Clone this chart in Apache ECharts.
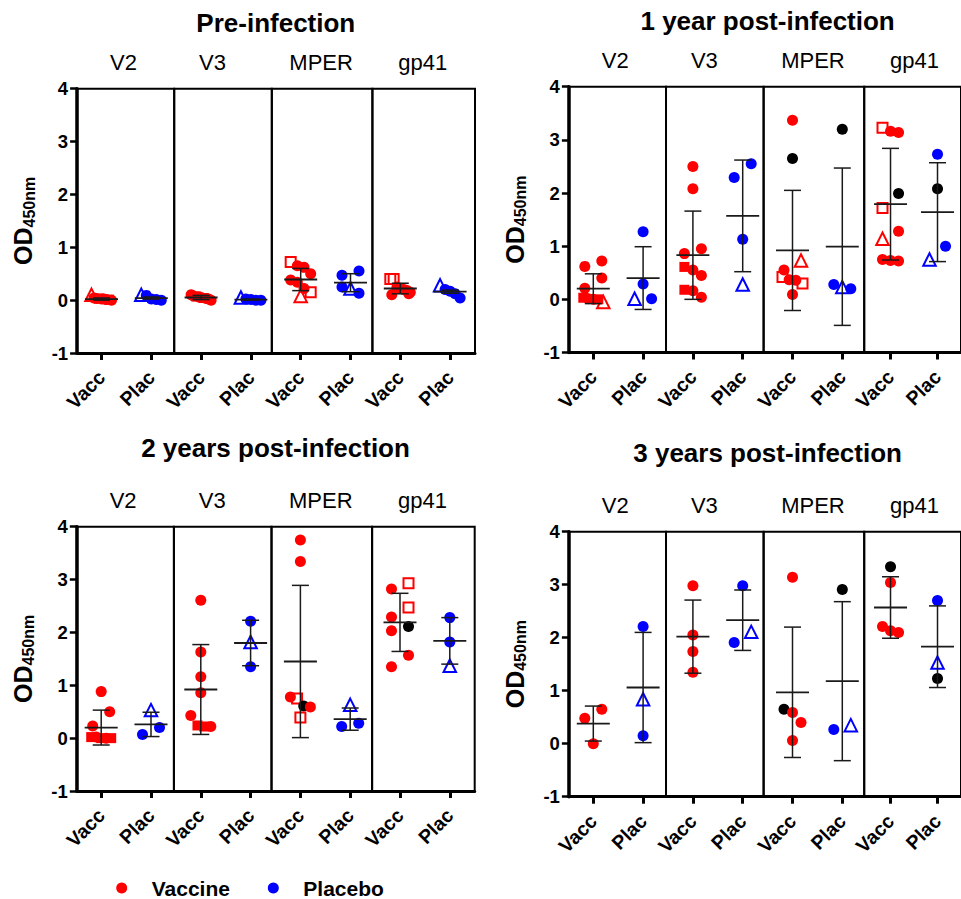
<!DOCTYPE html>
<html><head><meta charset="utf-8">
<script src="https://cdn.jsdelivr.net/npm/echarts@6/dist/echarts.min.js"></script>
<style>html,body{margin:0;padding:0;background:#fff}#c{width:961px;height:899px}</style>
</head><body><div id="c"></div>
<script>
// ---------------- DATA ----------------
const timepoints = ['Pre-infection', '1 year post-infection', '2 years post-infection', '3 years post-infection'];
const antigens = ['V2', 'V3', 'MPER', 'gp41'];
const groups = ['Vacc', 'Plac'];
const legendNames = ['Vaccine', 'Placebo'];
const yTicks = [-1, 0, 1, 2, 3, 4];
// marker codes: c = filled circle, k = black circle, s = filled square, os = open square, ot = open triangle

const PRE_VACC = [
  [0.10, 0.04, 0.03, 0.03, 0.02, 0.02, 0.01, 0.01, 0.00],
  [0.10, 0.08, 0.07, 0.06, 0.05, 0.04, 0.03, 0.02, 0.00],
  [0.72, 0.65, 0.62, 0.50, 0.38, 0.34, 0.22, 0.15, 0.08],
  [0.40, 0.40, 0.25, 0.22, 0.20, 0.18, 0.15, 0.12, 0.10]
];
const PRE_VACC_MK = [
  ['ot','c','c','s','c','c','c','s','c'],
  ['c','c','s','c','c','s','c','c','c'],
  ['os','c','c','c','c','c','c','os','ot'],
  ['os','os','c','c','c','c','c','c','c']
];
const PRE_PLAC = [
  [0.10, 0.09, 0.02, 0.01, 0.00],
  [0.05, 0.02, 0.01, 0.00, 0.00],
  [0.55, 0.47, 0.25, 0.22, 0.13],
  [0.28, 0.20, 0.17, 0.12, 0.04]
];
const PRE_PLAC_MK = [
  ['ot','c','c','c','c'],
  ['ot','c','c','c','c'],
  ['c','c','c','ot','c'],
  ['ot','c','c','c','c']
];
const PRE_MEAN = [0.02, 0.04, 0.05, 0.01, 0.39, 0.33, 0.22, 0.16];
const PRE_SD   = [0.02, 0.02, 0.04, 0.01, 0.21, 0.17, 0.10, 0.03];

const Y1_VACC = [
  [0.72, 0.62, 0.40, 0.21, 0.03, 0.01, 0.00, 0.00, -0.05],
  [2.50, 2.08, 0.95, 0.86, 0.61, 0.55, 0.45, 0.18, 0.16, 0.04],
  [3.37, 2.65, 0.73, 0.55, 0.42, 0.37, 0.36, 0.30, 0.09],
  [3.23, 3.16, 3.14, 1.99, 1.72, 1.28, 1.14, 0.75, 0.73, 0.72]
];
const Y1_VACC_MK = [
  ['c','c','c','c','s','c','c','s','ot'],
  ['c','c','c','c','s','c','c','s','c','c'],
  ['c','k','ot','c','os','c','c','os','c'],
  ['os','c','c','k','os','c','ot','c','c','c']
];
const Y1_PLAC = [
  [1.27, 0.29, 0.01, 0.01],
  [2.55, 2.29, 1.13, 0.28],
  [3.20, 0.28, 0.23, 0.20],
  [2.73, 2.08, 1.00, 0.75]
];
const Y1_PLAC_MK = [
  ['c','c','c','ot'],
  ['c','c','c','ot'],
  ['k','c','ot','c'],
  ['c','k','c','ot']
];
const Y1_MEAN = [0.20, 0.40, 0.83, 1.57, 0.92, 0.99, 1.79, 1.64];
const Y1_SD   = [0.28, 0.59, 0.83, 1.05, 1.13, 1.48, 1.05, 0.93];

const Y2_VACC = [
  [0.88, 0.50, 0.23, 0.02, 0.02, 0.00, 0.00, 0.00],
  [2.61, 1.63, 1.16, 0.86, 0.43, 0.24, 0.22, 0.22],
  [3.75, 3.34, 0.78, 0.75, 0.61, 0.59, 0.39],
  [2.93, 2.82, 2.47, 2.29, 2.11, 2.03, 1.57, 1.35]
];
const Y2_VACC_MK = [
  ['c','c','c','s','c','s','c','s'],
  ['c','c','c','c','c','s','s','c'],
  ['c','c','c','os','k','c','os'],
  ['os','c','os','c','k','c','c','c']
];
const Y2_PLAC = [
  [0.53, 0.20, 0.07],
  [2.21, 1.82, 1.35],
  [0.63, 0.28, 0.22],
  [2.28, 1.82, 1.37]
];
const Y2_PLAC_MK = [
  ['ot','c','c'],
  ['c','ot','c'],
  ['ot','c','c'],
  ['c','c','ot']
];
const Y2_MEAN = [0.20, 0.26, 0.92, 1.80, 1.45, 0.36, 2.19, 1.84];
const Y2_SD   = [0.33, 0.23, 0.85, 0.43, 1.44, 0.21, 0.55, 0.44];

const Y3_VACC = [
  [0.65, 0.48, 0.00],
  [2.98, 2.05, 1.74, 1.35],
  [3.14, 0.65, 0.59, 0.40, 0.06],
  [3.34, 3.04, 2.21, 2.13, 2.10]
];
const Y3_VACC_MK = [
  ['c','c','c'],
  ['c','c','c','c'],
  ['c','k','c','c','c'],
  ['k','c','c','c','c']
];
const Y3_PLAC = [
  [2.21, 0.84, 0.15],
  [2.98, 2.11, 1.91],
  [2.91, 0.35, 0.27],
  [2.70, 1.53, 1.23]
];
const Y3_PLAC_MK = [
  ['c','ot','c'],
  ['c','ot','c'],
  ['k','ot','c'],
  ['c','ot','k']
];
const Y3_MEAN = [0.38, 1.06, 2.02, 2.33, 0.97, 1.18, 2.57, 1.83];
const Y3_SD   = [0.33, 1.04, 0.69, 0.57, 1.23, 1.50, 0.58, 0.77];

// ---------------- LAYOUT / STYLE ----------------
const FONT = '"Liberation Sans", Arial, Helvetica, sans-serif';
const RED = '#ff0000', BLUE = '#0000ff', BLACK = '#000000', BAR = '#1a1a1a';
const panels = [
  { x0: 101.5, top: 88.7,  bottom: 353,   titleY: 23 },
  { x0: 593.3, top: 86.7,  bottom: 352.5, titleY: 21 },
  { x0: 101.2, top: 526.7, bottom: 791,   titleY: 448 },
  { x0: 593.3, top: 531.7, bottom: 796.7, titleY: 453 }
];
const UNIT = 49.8;
const BOUNDS = [-0.49, 1.46, 3.42, 5.44, 7.5];
const SUB_X = [0.44, 2.23, 4.41, 6.45];
const ROW_PX = 14.5, STEP = 8.5, MAXW = 20;
const LEGEND_Y = 888, LEGEND_X = [121.7, 273.3];

const tpData = [
  [PRE_VACC, PRE_VACC_MK, PRE_PLAC, PRE_PLAC_MK, PRE_MEAN, PRE_SD],
  [Y1_VACC, Y1_VACC_MK, Y1_PLAC, Y1_PLAC_MK, Y1_MEAN, Y1_SD],
  [Y2_VACC, Y2_VACC_MK, Y2_PLAC, Y2_PLAC_MK, Y2_MEAN, Y2_SD],
  [Y3_VACC, Y3_VACC_MK, Y3_PLAC, Y3_PLAC_MK, Y3_MEAN, Y3_SD]
];

// simple scatter-dot spreading (points close in value are spread sideways)
function swarm(vals, pxPerVal) {
  const idx = vals.map((v, i) => i).sort((a, b) => vals[b] - vals[a] || a - b);
  const rows = [];
  for (const i of idx) {
    const r = rows[rows.length - 1];
    if (r && (vals[r[0]] - vals[i]) * pxPerVal < ROW_PX) r.push(i); else rows.push([i]);
  }
  const off = new Array(vals.length).fill(0);
  for (const r of rows) {
    const n = r.length;
    if (n === 1) continue;
    if (n === 2) { off[r[0]] = STEP; off[r[1]] = -STEP; continue; }
    const w = Math.min((n - 1) * STEP, MAXW);
    r.forEach((i, k) => { off[i] = -w / 2 + k * w / (n - 1); });
  }
  return off;
}

function markerStyle(code, col) {
  switch (code) {
    case 'k':  return { symbol: 'circle', symbolSize: 11, itemStyle: { color: BLACK, opacity: 1 } };
    case 's':  return { symbol: 'rect', symbolSize: 10, itemStyle: { color: col, opacity: 1 } };
    case 'os': return { symbol: 'rect', symbolSize: 10, itemStyle: { color: 'rgba(0,0,0,0)', borderColor: col, borderWidth: 2, opacity: 1 } };
    case 'ot': return { symbol: 'triangle', symbolSize: 12.5, itemStyle: { color: 'rgba(0,0,0,0)', borderColor: col, borderWidth: 2, opacity: 1 } };
    default:   return { symbol: 'circle', symbolSize: 11, itemStyle: { color: col, opacity: 1 } };
  }
}

function renderMeanSD(params, api) {
  const x = api.value(0), m = api.value(1), s = api.value(2);
  const c = api.coord([x, m]), hi = api.coord([x, m + s]), lo = api.coord([x, m - s]);
  const st = { stroke: BAR, lineWidth: 1.5 };
  return {
    type: 'group',
    children: [
      { type: 'line', shape: { x1: hi[0], y1: hi[1], x2: lo[0], y2: lo[1] }, style: st },
      { type: 'line', shape: { x1: hi[0] - 8.5, y1: hi[1], x2: hi[0] + 8.5, y2: hi[1] }, style: st },
      { type: 'line', shape: { x1: lo[0] - 8.5, y1: lo[1], x2: lo[0] + 8.5, y2: lo[1] }, style: st },
      { type: 'line', shape: { x1: c[0] - 16.5, y1: c[1], x2: c[0] + 16.5, y2: c[1] }, style: { stroke: BAR, lineWidth: 1.8 } }
    ]
  };
}

const grids = [], xAxes = [], yAxes = [], series = [], graphics = [];
const mctx = document.createElement('canvas').getContext('2d');
const ODF = 'bold 25px ' + FONT, SUBF = 'bold 16px ' + FONT;
mctx.font = ODF; const wOD = mctx.measureText('OD').width;
mctx.font = SUBF; const wSub = mctx.measureText('450nm').width;

panels.forEach((P, p) => {
  const pxPerVal = (P.bottom - P.top) / (yTicks[yTicks.length - 1] - yTicks[0]);
  const [vv, vm, pv, pm, mean, sd] = tpData[p];
  for (let k = 0; k < 4; k++) {
    const gi = p * 4 + k;
    grids.push({
      left: P.x0 + BOUNDS[k] * UNIT, top: P.top,
      width: (BOUNDS[k + 1] - BOUNDS[k]) * UNIT, height: P.bottom - P.top,
      show: true, borderColor: '#000', borderWidth: 2, backgroundColor: 'transparent'
    });
    xAxes.push({
      gridIndex: gi, type: 'value', min: BOUNDS[k] - 2 * k, max: BOUNDS[k + 1] - 2 * k,
      axisLine: { show: true, onZero: false, lineStyle: { color: '#000', width: 3 } },
      axisTick: { show: true, customValues: [0, 1], length: 7, lineStyle: { color: '#000', width: 3 } },
      axisLabel: { show: true, customValues: [0, 1], formatter: v => groups[Math.round(v)] || '',
        rotate: 45, margin: 21, fontSize: 19.5, fontWeight: 'bold', color: '#000', fontFamily: FONT },
      splitLine: { show: false }
    });
    yAxes.push({
      gridIndex: gi, type: 'value', min: yTicks[0], max: yTicks[yTicks.length - 1], interval: 1, show: k === 0,
      axisLine: { show: true, onZero: false, lineStyle: { color: '#000', width: 3.5 } },
      axisTick: { show: true, length: 7, lineStyle: { color: '#000', width: 2.5 } },
      axisLabel: { fontSize: 18.5, fontWeight: 'bold', color: '#000', fontFamily: FONT, margin: 9 },
      splitLine: { show: false }
    });
    [[vv[k], vm[k]], [pv[k], pm[k]]].forEach(([vals, marks], g) => {
      const col = g === 0 ? RED : BLUE;
      const off = swarm(vals, pxPerVal);
      series.push({
        type: 'scatter', name: legendNames[g], xAxisIndex: gi, yAxisIndex: gi,
        itemStyle: { color: col, opacity: 1 }, z: 2, silent: true,
        data: vals.map((v, i) => Object.assign({ value: [g + off[i] / UNIT, v] }, markerStyle(marks[i], col)))
      });
    });
    series.push({
      type: 'custom', xAxisIndex: gi, yAxisIndex: gi, z: 5, silent: true,
      renderItem: renderMeanSD,
      data: [[0, mean[2 * k], sd[2 * k]], [1, mean[2 * k + 1], sd[2 * k + 1]]]
    });
    graphics.push({
      type: 'text', x: P.x0 + SUB_X[k] * UNIT, y: P.top - 26,
      style: { text: antigens[k], font: '22px ' + FONT, fill: '#000', textAlign: 'center', textVerticalAlign: 'middle' }
    });
  }
  graphics.push({
    type: 'text', x: P.x0 + 3.5 * UNIT, y: P.titleY,
    style: { text: timepoints[p], font: 'bold 26px ' + FONT, fill: '#000', textAlign: 'center', textVerticalAlign: 'middle' }
  });
  const axisX = P.x0 + BOUNDS[0] * UNIT;
  const xc = axisX - 54, yc = (P.top + P.bottom) / 2;
  const yStart = yc + (wOD + wSub) / 2;
  graphics.push({ type: 'text', x: xc, y: yStart, rotation: Math.PI / 2,
    style: { text: 'OD', font: ODF, fill: '#000', textAlign: 'left', textVerticalAlign: 'middle' } });
  graphics.push({ type: 'text', x: xc + 6, y: yStart - wOD, rotation: Math.PI / 2,
    style: { text: '450nm', font: SUBF, fill: '#000', textAlign: 'left', textVerticalAlign: 'middle' } });
});

// legend (drawn as marks + text)
legendNames.forEach((name, g) => {
  graphics.push({ type: 'circle', shape: { cx: LEGEND_X[g], cy: LEGEND_Y, r: 5.5 }, style: { fill: g === 0 ? RED : BLUE } });
  graphics.push({ type: 'text', x: LEGEND_X[g] + 30, y: LEGEND_Y,
    style: { text: name, font: 'bold 21px ' + FONT, fill: '#000', textAlign: 'left', textVerticalAlign: 'middle' } });
});

const chart = echarts.init(document.getElementById('c'), null, { renderer: 'svg', width: 961, height: 899 });
chart.setOption({
  animation: false,
  backgroundColor: '#fff',
  grid: grids, xAxis: xAxes, yAxis: yAxes, series: series, graphic: graphics
});
</script></body></html>
